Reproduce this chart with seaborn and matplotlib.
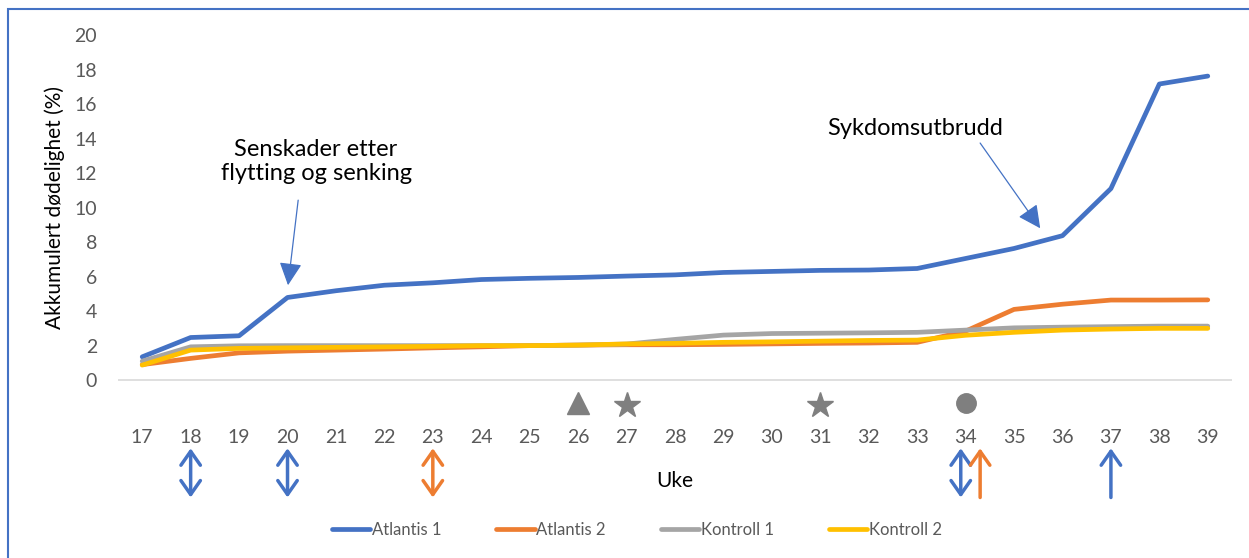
import numpy as np
import pandas as pd
import seaborn as sns
import matplotlib.pyplot as plt
from matplotlib.patches import Rectangle

# data
uke = list(range(17, 40))
atlantis1 = [1.35, 2.47, 2.57, 4.79, 5.18, 5.5, 5.64, 5.83, 5.9, 5.95, 6.03, 6.1,
             6.24, 6.3, 6.36, 6.38, 6.47, 7.05, 7.63, 8.37, 11.1, 17.16, 17.62]
atlantis2 = [0.9, 1.26, 1.58, 1.68, 1.74, 1.8, 1.87, 1.93, 2.0, 2.03, 2.05, 2.05,
             2.07, 2.1, 2.13, 2.15, 2.19, 2.84, 4.1, 4.4, 4.64, 4.64, 4.65]
kontroll1 = [1.1, 1.93, 1.99, 2.0, 2.0, 2.0, 2.0, 2.0, 2.0, 2.03, 2.09, 2.36,
             2.61, 2.7, 2.72, 2.74, 2.77, 2.9, 3.03, 3.07, 3.1, 3.13, 3.13]
kontroll2 = [0.87, 1.74, 1.84, 1.87, 1.9, 1.93, 1.96, 2.0, 2.0, 2.03, 2.1, 2.13,
             2.19, 2.22, 2.26, 2.3, 2.32, 2.6, 2.77, 2.9, 2.96, 3.0, 3.0]
serier = ["Atlantis 1", "Atlantis 2", "Kontroll 1", "Kontroll 2"]
farger = ["#4472C4", "#ED7D31", "#A5A5A5", "#FFC000"]

# event symbols above the week axis
trekant_uke = [26]
stjerne_uke = [27, 31]
sirkel_uke = [34]
symbol_y = -1.35
# arrows under the week axis: (week, colour, style)
piler = [(18, "#4472C4", "<->"), (20, "#4472C4", "<->"), (23, "#ED7D31", "<->"),
         (33.9, "#4472C4", "<->"), (34.3, "#ED7D31", "->"), (37, "#4472C4", "->")]

df = pd.DataFrame({"Uke": uke * 4,
                   "verdi": atlantis1 + atlantis2 + kontroll1 + kontroll2,
                   "serie": sum([[s] * len(uke) for s in serier], [])})

sns.set_style("white")
plt.rcParams["font.family"] = ["Lato", "DejaVu Sans"]
tekst = "#595959"

fig = plt.figure(figsize=(12.49, 5.58), dpi=100)
ax = fig.add_axes([118 / 1249, 1 - 425 / 558, 1114 / 1249, 390 / 558])

sns.lineplot(data=df, x="Uke", y="verdi", hue="serie", hue_order=serier,
             palette=farger, linewidth=3.4, ax=ax, legend=True)

ax.axhline(0, color="#D9D9D9", lw=1.2, zorder=0)
ax.plot(trekant_uke, [symbol_y] * len(trekant_uke), "^", color="#7F7F7F", ms=16, clip_on=False)
ax.plot(stjerne_uke, [symbol_y - 0.1] * len(stjerne_uke), "*", color="#7F7F7F", ms=19, clip_on=False)
ax.plot(sirkel_uke, [symbol_y] * len(sirkel_uke), "o", color="#7F7F7F", ms=14, clip_on=False)

for x, c, stil in piler:
    if stil == "<->":
        ax.annotate("", xy=(x, -6.8), xytext=(x, -3.95), annotation_clip=False,
                    arrowprops=dict(arrowstyle="<->,head_length=0.5,head_width=0.35",
                                    color=c, lw=2.5, mutation_scale=20,
                                    shrinkA=0, shrinkB=0))
    else:
        ax.annotate("", xy=(x, -3.95), xytext=(x, -6.8), annotation_clip=False,
                    arrowprops=dict(arrowstyle="->,head_length=0.5,head_width=0.35",
                                    color=c, lw=2.5, mutation_scale=20,
                                    shrinkA=0, shrinkB=0))

pil = dict(arrowstyle="-|>,head_length=0.7,head_width=0.35", color="#4472C4",
           lw=0.9, mutation_scale=20, shrinkA=0, shrinkB=0)
ax.text(20.59, 12.67, "Senskader etter\nflytting og senking", ha="center", va="center",
        fontsize=17, color="#000000", linespacing=1.2)
ax.annotate("", xy=(20.01, 5.5), xytext=(20.22, 10.43), arrowprops=pil)
ax.text(32.96, 14.6, "Sykdomsutbrudd", ha="center", va="center", fontsize=17, color="#000000")
ax.annotate("", xy=(35.54, 8.8), xytext=(34.3, 13.74), arrowprops=pil)

ax.set_xlim(16.5, 39.5)
ax.set_ylim(-2.6, 20)
ax.set_xticks(uke)
ax.set_yticks(range(0, 21, 2))
ax.tick_params(axis="both", length=0, labelsize=14, colors=tekst)
ax.tick_params(axis="x", pad=3)
ax.tick_params(axis="y", pad=15)
ax.set_xlabel("Uke", fontsize=15, color="#000000", labelpad=18)
ax.set_ylabel("Akkumulert dødelighet (%)", fontsize=15, color="#000000")
ax.yaxis.set_label_coords(-0.048, 12.6 / 22.6)
for s in ax.spines.values():
    s.set_visible(False)

h, l = ax.get_legend_handles_labels()
ax.legend(h, l, ncol=4, loc="center", bbox_to_anchor=(0.51, 1 - 530 / 558),
          bbox_transform=fig.transFigure, frameon=False, fontsize=12,
          handlelength=2.3, handletextpad=0.1, columnspacing=3.3, labelcolor=tekst)

fig.patches.append(Rectangle((8 / 1249, -0.05), 1.2, 1 - 9 / 558 + 0.05, transform=fig.transFigure,
                             fill=False, edgecolor="#4472C4", lw=1.5))

fig.savefig("out.png", dpi=100)
